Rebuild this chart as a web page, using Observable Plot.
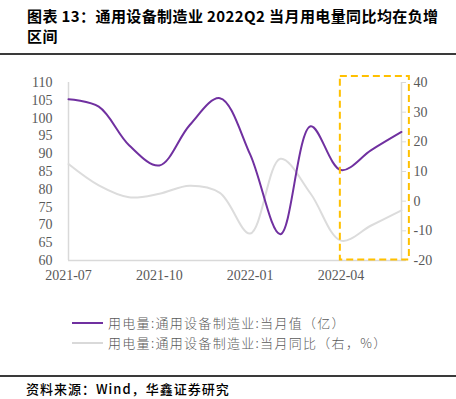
<!DOCTYPE html>
<html><head><meta charset="utf-8">
<script src="https://cdn.jsdelivr.net/npm/d3@7"></script>
<script src="https://cdn.jsdelivr.net/npm/@observablehq/plot@0.6"></script>
<style>
body{margin:0;background:#fff;}
#wrap{position:relative;width:456px;height:399px;background:#fff;overflow:hidden;}
.title{position:absolute;left:27px;top:6px;font-family:"Noto Sans CJK SC";font-weight:bold;font-size:15px;line-height:20px;color:#000;letter-spacing:0.4px;white-space:nowrap;}
.hline{position:absolute;left:0;width:456px;height:1.5px;background:#3a3a3a;}
#chart{position:absolute;left:0;top:60px;}
.leg{position:absolute;left:72px;font-family:"Noto Sans CJK SC";font-weight:300;font-size:13px;color:#595959;white-space:nowrap;display:flex;align-items:center;letter-spacing:1.3px;}
.leg .sw{display:inline-block;width:31px;height:2px;margin-right:5px;}
.src{position:absolute;left:26px;top:379px;font-family:"Noto Sans CJK SC";font-weight:500;font-size:13px;color:#000;white-space:nowrap;letter-spacing:1px;}
</style>
</head><body>
<div id="wrap">
  <div class="title">图表 13：通用设备制造业 2022Q2 当月用电量同比均在负增<br>区间</div>
  <div class="hline" style="top:53px"></div>
  <div id="chart"></div>
  <div class="leg" style="top:313px"><span class="sw" style="background:#7030A0"></span>用电量:通用设备制造业:当月值（亿）</div>
  <div class="leg" style="top:333px"><span class="sw" style="background:#D9D9D9"></span>用电量:通用设备制造业:当月同比（右，%）</div>
  <div class="hline" style="top:375px"></div>
  <div class="src">资料来源：Wind，华鑫证券研究</div>
</div>
<script>
const months = ["2021-07","2021-08","2021-09","2021-10","2021-11","2021-12","2022-01","2022-02","2022-03","2022-04","2022-05","2022-06"];
const powerValue = [105.3, 103.2, 92.4, 86.7, 98.0, 105.6, 89.8, 67.4, 97.7, 85.4, 91.0, 96.1];
const powerYoY = [12.5, 5.3, 1.3, 2.5, 5.2, 2.8, -10.9, 14.3, 2.5, -13.3, -8.2, -3.1];
const leftTicks = [60,65,70,75,80,85,90,95,100,105,110];
const rightTicks = [-20,-10,0,10,20,30,40];
const xTickMonths = ["2021-07","2021-10","2022-01","2022-04"];
const highlightMonths = ["2022-04","2022-06"];

const toLeft = d3.scaleLinear([-20,40],[60,110]);
const data = months.map((m,i)=>({i, m, v: powerValue[i], y: toLeft(powerYoY[i])}));
const hl = [{x1: months.indexOf(highlightMonths[0]) - 0.02, x2: months.indexOf(highlightMonths[1]) + 0.26, y1: toLeft(-19.8), y2: toLeft(42)}];
const axisFont = "Liberation Serif";

const chart = Plot.plot({
  width: 456, height: 230,
  marginTop: 22, marginBottom: 30, marginLeft: 68, marginRight: 55,
  style: {fontFamily: axisFont, fontSize: "14px", color: "#595959", overflow: "visible"},
  x: {domain: [0, 11]},
  y: {domain: [60, 110]},
  marks: [
    Plot.ruleY([60], {x1: 0, x2: 11.15, stroke: "#D9D9D9", strokeWidth: 1.5}),
    Plot.ruleX([0], {y1: 60, y2: 110, stroke: "#D9D9D9", strokeWidth: 1.5}),
    Plot.ruleX([11], {y1: 60, y2: 110, stroke: "#D9D9D9", strokeWidth: 1.5}),
    Plot.axisX(xTickMonths.map(m => months.indexOf(m)), {tickSize: 0, tickPadding: 10, tickFormat: i => months[i], fill: "#595959", fontSize: 14}),
    Plot.axisY(leftTicks, {anchor: "left", tickSize: 0, tickPadding: 16, tickFormat: d => String(d), fill: "#595959", fontSize: 14}),
    Plot.axisY(rightTicks.map(toLeft), {anchor: "right", tickSize: 4, tickPadding: 8, stroke: "#D9D9D9", tickFormat: d => String(Math.round(toLeft.invert(d))), fill: "#595959", fontSize: 14}),
    Plot.line(data, {x: "i", y: "y", stroke: "#DCDCDC", strokeWidth: 2, curve: "catmull-rom"}),
    Plot.line(data, {x: "i", y: "v", stroke: "#7030A0", strokeWidth: 2, curve: "catmull-rom"}),
    Plot.rect(hl, {x1: "x1", x2: "x2", y1: "y1", y2: "y2", fill: "none", stroke: "#FFC000", strokeWidth: 2, strokeDasharray: "7,4"})
  ]
});
document.getElementById("chart").appendChild(chart);
</script>
</body></html>
